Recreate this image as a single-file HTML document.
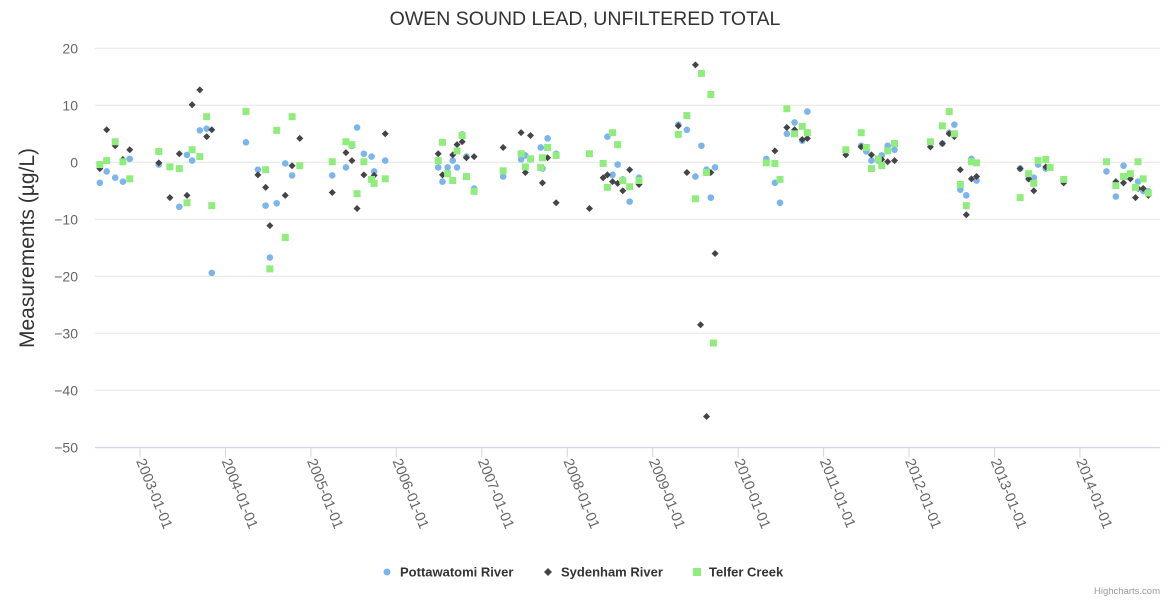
<!DOCTYPE html>
<html><head><meta charset="utf-8"><style>
html,body{margin:0;padding:0;background:#fff;}
svg{display:block;font-family:"Liberation Sans",Arial,sans-serif;}
</style></head><body>
<svg id="chart" width="1170" height="600">
<text x="585" y="25" text-anchor="middle" font-size="19.5" fill="#333">OWEN SOUND LEAD, UNFILTERED TOTAL</text>
<text transform="translate(34,248) rotate(-90)" text-anchor="middle" font-size="21" fill="#333">Measurements (µg/L)</text>
<g id="grid"></g><g id="xaxis"></g><g id="marks"></g>
<g>
<g><circle cx="387" cy="572" r="3.5" fill="#7cb5ec"/><text x="400" y="576.5" font-size="13" font-weight="bold" fill="#333">Pottawatomi River</text></g>
<g><path d="M548 568 L552 572 L548 576 L544 572 Z" fill="#434348"/><text x="561" y="576.5" font-size="13" font-weight="bold" fill="#333">Sydenham River</text></g>
<g><rect x="693" y="568" width="8" height="8" fill="#90ed7d"/><text x="709" y="576.5" font-size="13" font-weight="bold" fill="#333">Telfer Creek</text></g>
</g>
<text x="1160" y="594" text-anchor="end" font-size="9.5" fill="#999">Highcharts.com</text>
</svg>
<script>
const yTicks=[20,10,0,-10,-20,-30,-40,-50];
const xTickYears=[2003,2004,2005,2006,2007,2008,2009,2010,2011,2012,2013,2014];
const xTickLabels=["2003-01-01","2004-01-01","2005-01-01","2006-01-01","2007-01-01","2008-01-01","2009-01-01","2010-01-01","2011-01-01","2012-01-01","2013-01-01","2014-01-01"];
const potX=[2002.53,2002.61,2002.71,2002.80,2002.88,2003.22,2003.46,2003.55,2003.61,2003.70,2003.78,2003.84,2004.24,2004.38,2004.47,2004.52,2004.60,2004.70,2004.78,2005.25,2005.41,2005.48,2005.54,2005.62,2005.71,2005.74,2005.87,2006.49,2006.54,2006.60,2006.66,2006.71,2006.77,2006.82,2006.91,2007.25,2007.46,2007.51,2007.57,2007.69,2007.71,2007.77,2007.87,2008.47,2008.53,2008.59,2008.65,2008.73,2008.84,2009.30,2009.40,2009.50,2009.57,2009.63,2009.68,2009.73,2010.33,2010.43,2010.49,2010.57,2010.66,2010.75,2010.81,2011.44,2011.50,2011.56,2011.64,2011.68,2011.75,2011.83,2012.39,2012.47,2012.53,2012.60,2012.67,2012.73,2012.79,2013.30,2013.40,2013.46,2013.51,2013.60,2014.31,2014.42,2014.51,2014.68,2014.74,2014.80];
const potY=[-3.6,-1.6,-2.7,-3.4,0.6,-0.4,-7.8,1.3,0.3,5.6,5.9,-19.4,3.5,-1.3,-7.6,-16.7,-7.2,-0.2,-2.3,-2.3,-0.9,2.9,6.1,1.5,1.0,-1.6,0.3,-0.9,-3.4,-0.9,0.3,-0.9,4.9,1.0,-4.6,-2.5,0.5,1.2,0.5,2.6,-1.1,4.2,1.5,4.5,-2.2,-0.4,-3.0,-6.9,-2.7,6.6,5.7,-2.5,2.9,-1.3,-6.2,-0.9,0.6,-3.6,-7.1,5.0,7.0,3.8,8.9,2.9,1.9,0.3,0.3,1.2,2.9,2.2,3.3,5.2,6.6,-4.8,-5.8,0.6,-3.2,-1.1,-2.9,-2.7,-0.4,-1.1,-1.6,-6.0,-0.6,-3.4,-5.0,-5.1];
const sydX=[2002.53,2002.61,2002.71,2002.80,2002.88,2003.22,2003.35,2003.46,2003.55,2003.61,2003.70,2003.78,2003.84,2004.38,2004.47,2004.52,2004.70,2004.78,2004.87,2005.25,2005.41,2005.48,2005.54,2005.62,2005.74,2005.87,2006.49,2006.54,2006.66,2006.71,2006.77,2006.82,2006.91,2007.25,2007.46,2007.51,2007.57,2007.71,2007.77,2007.87,2008.26,2008.42,2008.47,2008.53,2008.59,2008.65,2008.73,2008.84,2009.30,2009.40,2009.50,2009.56,2009.63,2009.68,2009.73,2010.43,2010.57,2010.66,2010.75,2010.81,2011.26,2011.44,2011.56,2011.68,2011.75,2011.83,2012.25,2012.39,2012.47,2012.53,2012.60,2012.67,2012.73,2012.79,2013.30,2013.40,2013.46,2013.60,2013.81,2014.42,2014.51,2014.59,2014.65,2014.68,2014.74,2014.80];
const sydY=[-1.1,5.7,2.9,0.5,2.2,-0.1,-6.2,1.5,-5.8,10.1,12.7,4.5,5.7,-2.2,-4.4,-11.1,-5.8,-0.6,4.2,-5.3,1.7,0.3,-8.1,-2.2,-2.3,5.0,1.5,-2.2,1.3,3.1,3.6,0.8,1.0,2.6,5.2,-1.8,4.7,-3.6,0.8,-7.1,-8.1,-2.7,-2.2,-3.4,-3.7,-5.0,-1.3,-3.9,6.4,-1.8,17.1,-28.5,-44.6,-1.8,-16.0,2.0,6.1,5.7,4.0,4.2,1.3,2.7,1.3,0.5,0.1,0.3,2.7,3.3,5.0,4.5,-1.3,-9.2,-2.9,-2.5,-1.1,-2.9,-5.0,-0.8,-3.6,-3.4,-3.6,-2.9,-6.2,-4.6,-4.6,-5.8];
const telX=[2002.53,2002.61,2002.71,2002.80,2002.88,2003.22,2003.35,2003.46,2003.55,2003.61,2003.70,2003.78,2003.84,2004.24,2004.47,2004.52,2004.60,2004.70,2004.78,2004.87,2005.25,2005.41,2005.48,2005.54,2005.62,2005.71,2005.74,2005.87,2006.49,2006.54,2006.60,2006.66,2006.71,2006.77,2006.82,2006.91,2007.25,2007.46,2007.51,2007.57,2007.69,2007.71,2007.77,2007.87,2008.26,2008.42,2008.47,2008.53,2008.59,2008.65,2008.73,2008.84,2009.30,2009.40,2009.50,2009.57,2009.63,2009.68,2009.71,2010.33,2010.43,2010.49,2010.57,2010.66,2010.75,2010.81,2011.26,2011.44,2011.50,2011.56,2011.64,2011.68,2011.75,2011.83,2012.25,2012.39,2012.47,2012.53,2012.60,2012.67,2012.73,2012.79,2013.30,2013.40,2013.46,2013.51,2013.60,2013.65,2013.81,2014.31,2014.42,2014.51,2014.59,2014.65,2014.68,2014.74,2014.80];
const telY=[-0.4,0.3,3.6,0.1,-2.9,1.9,-0.8,-1.1,-7.1,2.2,1.0,8.0,-7.6,8.9,-1.3,-18.7,5.6,-13.2,8.0,-0.6,0.1,3.6,3.1,-5.5,0.1,-3.0,-3.7,-2.9,0.3,3.5,-2.0,-3.2,2.0,4.7,-2.5,-5.1,-1.5,1.5,-0.8,0.6,-0.9,0.8,2.6,1.2,1.5,-0.2,-4.4,5.2,3.1,-3.2,-4.3,-3.2,4.9,8.2,-6.4,15.6,-1.8,11.9,-31.7,-0.1,-0.2,-3.0,9.4,5.0,6.3,5.2,2.2,5.2,2.6,-1.1,0.6,-0.6,2.0,3.3,3.6,6.4,8.9,5.0,-3.9,-7.6,0.1,-0.1,-6.2,-2.0,-3.7,0.3,0.5,-0.9,-3.0,0.1,-4.1,-2.5,-2.0,-4.4,0.1,-2.9,-5.4];

const NS='http://www.w3.org/2000/svg';
const plotL=95,plotR=1160;
function yScale(v){return 162.3-v*5.7;}
function xScale(yr){return 140+(yr-2003)*85.45;}
function mk(tag,attrs,parent){const e=document.createElementNS(NS,tag);for(const k in attrs)e.setAttribute(k,attrs[k]);parent.appendChild(e);return e;}
const grid=document.getElementById('grid');
yTicks.forEach(t=>{
  const ln=mk('line',{x1:plotL,x2:plotR,y1:yScale(t),y2:yScale(t),stroke:'#e6e6e6','stroke-width':1},grid);
  
  
  const tx=mk('text',{x:78,y:yScale(t)+5,'text-anchor':'end','font-size':14,fill:'#666'},grid);
  tx.textContent=String(t).replace('-','\u2212');
  
  
});
const xa=document.getElementById('xaxis');
const axl=mk('line',{x1:plotL,x2:plotR,y1:yScale(-50)+0.5,y2:yScale(-50)+0.5,stroke:'#ccd6eb'},xa);


xTickYears.forEach((yr,i)=>{
  const x=xScale(yr);
  const tk=mk('line',{x1:x,x2:x,y1:yScale(-50),y2:yScale(-50)+10,stroke:'#ccd6eb'},xa);
  
  
  const tx=mk('text',{x:x-4,y:461,'font-size':14.5,fill:'#666',transform:`rotate(68 ${x-4} 461)`},xa);
  tx.textContent=xTickLabels[i];
  
  
});
const marks=document.getElementById('marks');
potX.forEach((yr,i)=>{
  const c=mk('circle',{cx:xScale(yr),cy:yScale(potY[i]),r:3.3,fill:'#7cb5ec'},marks);
  
  
});
sydX.forEach((yr,i)=>{
  const x=xScale(yr),y=yScale(sydY[i]);
  const p=mk('path',{d:`M${x} ${y-3.5} L${x+3.5} ${y} L${x} ${y+3.5} L${x-3.5} ${y} Z`,fill:'#434348'},marks);
  
  
});
telX.forEach((yr,i)=>{
  const r=mk('rect',{x:xScale(yr)-3.5,y:yScale(telY[i])-3.5,width:7,height:7,fill:'#90ed7d'},marks);
  
  
});
</script>
</body></html>
